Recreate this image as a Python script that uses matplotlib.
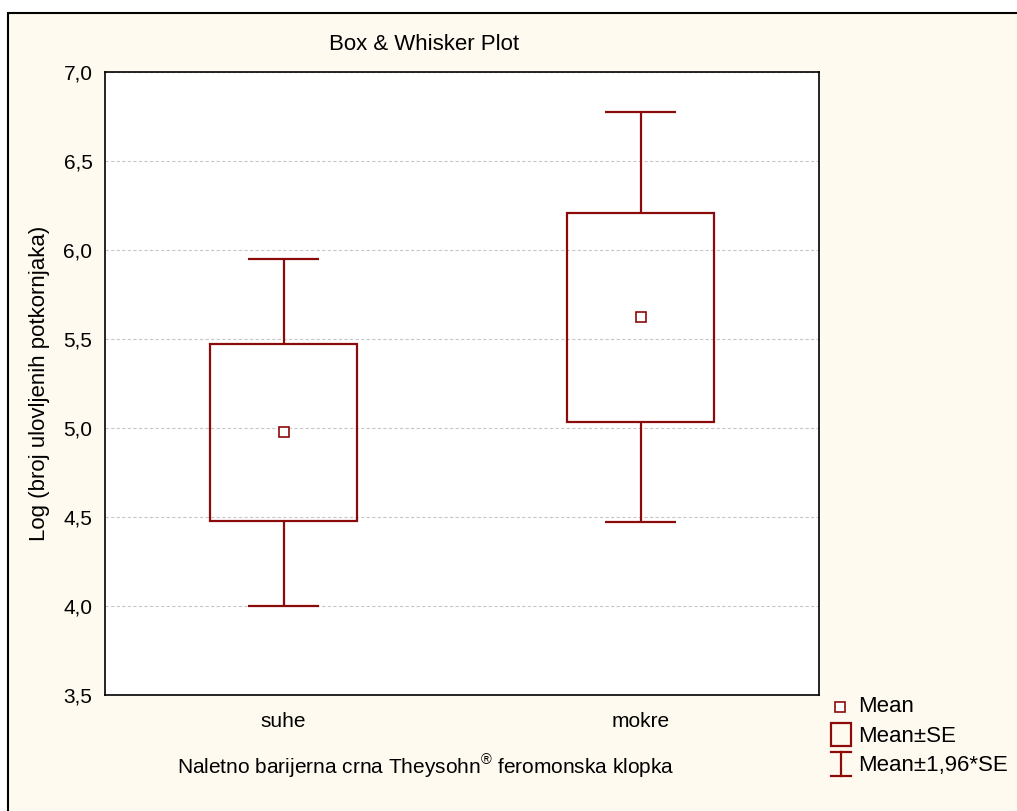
import matplotlib
matplotlib.use("Agg")
import matplotlib.pyplot as plt
from matplotlib.patches import Rectangle
from matplotlib.lines import Line2D

plt.rcParams['font.family'] = ['Liberation Sans', 'DejaVu Sans']
plt.rcParams['mathtext.fontset'] = 'custom'
plt.rcParams['mathtext.rm'] = 'Liberation Sans'

# values
groups = ["suhe", "mokre"]
means = [4.98, 5.625]
se_low = [4.48, 5.035]
se_high = [5.47, 6.21]
ci_low = [4.00, 4.47]
ci_high = [5.95, 6.775]
yticks = [3.5, 4.0, 4.5, 5.0, 5.5, 6.0, 6.5, 7.0]

W, H = 1017, 811
red = "#8b0a0a"
cream = "#fffaf0"

def fx(px):
    return px / W

def fy(py):
    return 1 - py / H

fig = plt.figure(figsize=(W / 100, H / 100), dpi=100, facecolor="white")
fig.patches.append(Rectangle((fx(8), -0.1), 1.2, fy(13) + 0.1, transform=fig.transFigure,
                             facecolor=cream, edgecolor="black", lw=1.5, zorder=-10))

ax = fig.add_axes([fx(105), fy(695), fx(819 - 105), (695 - 72) / H])
ax.set_facecolor("white")
pos = [1, 2]
bw = 0.41
cw = 0.2
for p, m, lo, hi, cl, ch in zip(pos, means, se_low, se_high, ci_low, ci_high):
    ax.add_patch(Rectangle((p - bw / 2, lo), bw, hi - lo, facecolor="none",
                           edgecolor=red, lw=1.6, zorder=3))
    ax.vlines(p, hi, ch, color=red, lw=1.6, zorder=3)
    ax.vlines(p, cl, lo, color=red, lw=1.6, zorder=3)
    ax.hlines([cl, ch], p - cw / 2, p + cw / 2, color=red, lw=1.6, zorder=3)
    ax.plot(p, m, "s", ms=6.5, mfc="white", mec=red, mew=1.2, zorder=4)

ax.set_xlim(0.5, 2.5)
ax.set_ylim(3.5, 7.0)
ax.set_xticks(pos)
ax.set_xticklabels(groups)
ax.set_yticks(yticks)
ax.set_yticklabels([f"{v:.1f}".replace(".", ",") for v in yticks])
ax.tick_params(length=0, labelsize=15)
ax.tick_params(axis="y", pad=9)
ax.tick_params(axis="x", pad=12)
ax.grid(axis="y", color="#c8c8c8", ls=(0, (3, 2)), lw=0.8)
ax.set_axisbelow(True)
for s in ax.spines.values():
    s.set_linewidth(1.2)

fig.text(fx(424), fy(45), "Box & Whisker Plot", ha="center", va="center", fontsize=16)
fig.text(fx(40), fy(383), "Log (broj ulovljenih potkornjaka)", rotation=90,
         ha="center", va="center", fontsize=16)
fig.text(fx(426), fy(766), r"Naletno barijerna crna Theysohn$^{\mathrm{®}}$ feromonska klopka",
         ha="center", va="center", fontsize=15)

# legend drawn by hand
fig.lines.append(Line2D([fx(840)], [fy(707)], marker="s", ms=6.5, mfc="white", mec=red,
                        mew=1.2, transform=fig.transFigure))
fig.patches.append(Rectangle((fx(831), fy(746)), fx(20), 23 / H, transform=fig.transFigure,
                             facecolor="none", edgecolor=red, lw=1.6))
fig.lines.append(Line2D([fx(841), fx(841)], [fy(752), fy(776)], color=red, lw=1.6,
                        transform=fig.transFigure))
fig.lines.append(Line2D([fx(831), fx(851)], [fy(752), fy(752)], color=red, lw=1.6,
                        transform=fig.transFigure))
fig.lines.append(Line2D([fx(831), fx(851)], [fy(776), fy(776)], color=red, lw=1.6,
                        transform=fig.transFigure))
for txt, y in [("Mean", 707), ("Mean±SE", 737), ("Mean±1,96*SE", 765)]:
    fig.text(fx(858), fy(y), txt, ha="left", va="center", fontsize=16)

fig.savefig("out.png", dpi=100, facecolor=fig.get_facecolor())
